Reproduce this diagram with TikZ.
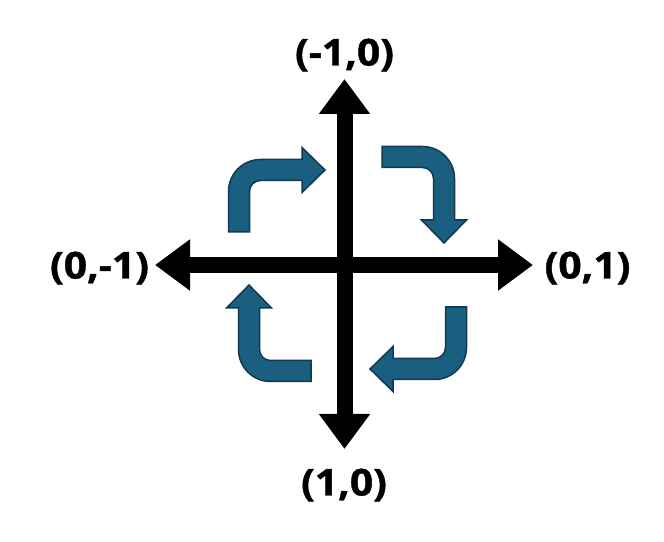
\documentclass[tikz,border=0pt]{standalone}
\usepackage{fontspec}
\newfontfamily\lblfont{Open Sans}[FakeStretch=1.1, FakeBold=1.2]
\usetikzlibrary{arrows.meta}
\definecolor{turnfill}{RGB}{26,95,128}
\definecolor{turnline}{RGB}{16,58,82}
\begin{document}
\begin{tikzpicture}[x=1pt, y=1pt, line join=miter,
		axis/.style={line width=16pt, {Triangle[length=35pt,width=49pt]}-{Triangle[length=35pt,width=49pt]}},
		lbl/.style={font=\lblfont\bfseries\fontsize{37}{40}\selectfont, inner sep=0pt},
		turn/.style={fill=turnfill, draw=turnline, line width=1.5pt}]
			\useasboundingbox (0,0) rectangle (664,541);
			\coordinate (O) at (344.5,276);
			\coordinate (T) at (344.5,462);
			\coordinate (B) at (344.5,92);
			\coordinate (L) at (155,276);
			\coordinate (R) at (533,276);
			\draw[axis] (B)--(T);
			\draw[axis] (L)--(R);
			\node[lbl] (top) at (344.5,486) {(-1,0)};
			\node[lbl] (bottom) at (344,56) {(1,0)};
			\node[lbl] (left) at (99.5,273) {(0,-1)};
			\node[lbl] (right) at (587.5,273) {(0,1)};
			% bent arrows, turning clockwise
			\foreach \ang/\sx/\sy in {0/239/309, -90/382/384, 180/456/234, 90/311/170}
			\draw[turn, shift={(\sx,\sy)}, rotate=\ang]
				(-10.5,0)--(-10.5,40.5) arc[start angle=180, end angle=90, radius=32]
				--(63,72.5)--(63,84.5)--(86,62)--(63,39.5)--(63,51.5)
				--(21.5,51.5) arc[start angle=90, end angle=180, radius=11]
				--(10.5,0)--cycle;
		\end{tikzpicture}
\end{document}
